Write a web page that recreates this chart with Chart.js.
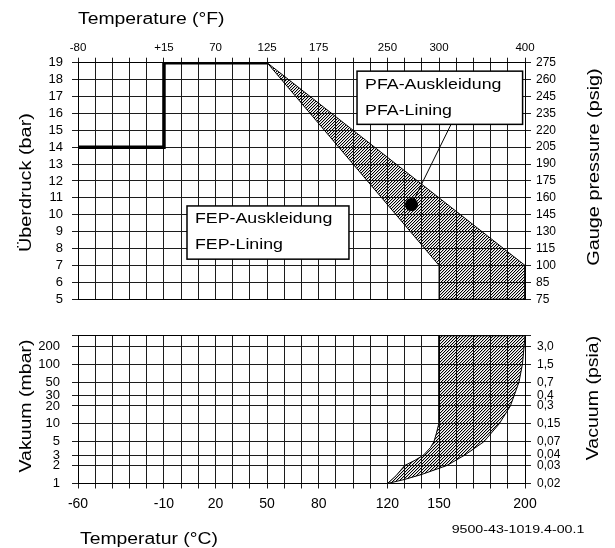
<!DOCTYPE html>
<html><head><meta charset="utf-8">
<script src="https://cdn.jsdelivr.net/npm/chart.js@4.4.1/dist/chart.umd.min.js"></script>
<style>
html,body{margin:0;padding:0;background:#fff;}
#wrap{position:relative;width:615px;height:548px;overflow:hidden;background:#fff;}
#c1{position:absolute;left:0;top:0;}
#c2{position:absolute;left:0;top:316px;}
</style></head><body>
<div id="wrap"><canvas id="c1" width="615" height="316"></canvas><canvas id="c2" width="615" height="232"></canvas></div>
<script>
// ---------- data ----------
const tempTicksC = [-60, -10, 20, 50, 80, 120, 150, 200];
const tempLabelsC = ['-60', '-10', '20', '50', '80', '120', '150', '200'];
const tempLabelsF = ['-80', '+15', '70', '125', '175', '250', '300', '400'];
const barTicks = [5, 6, 7, 8, 9, 10, 11, 12, 13, 14, 15, 16, 17, 18, 19];
const psigLabels = ['75', '85', '100', '115', '130', '145', '160', '175', '190', '205', '220', '235', '245', '260', '275'];
const mbarTicks = [1, 2, 3, 5, 10, 20, 30, 50, 100, 200];
const mbarLabels = ['1', '2', '3', '5', '10', '20', '30', '50', '100', '200'];
const psiaLabels = ['0,02', '0,03', '0,04', '0,07', '0,15', '0,3', '0,4', '0,7', '1,5', '3,0'];
const mbarTop = 300;

const fepTempC = [-60, -10, -10, 50];
const fepBar = [14, 14, 19, 19];
const pfaTempC = [50, 200, 200, 150, 150, 50];
const pfaBar = [19, 7, 5, 5, 7, 19];
const dotTempC = [134];
const dotBar = [10.6];
const leaderTempC = [134, 157];
const leaderBar = [10.6, 15.35];
const vacTempC = [120, 130, 140, 154.5, 165, 176, 185, 191.5, 196.5, 198.5, 199.5, 200, 150, 150, 148.5, 147, 145, 141, 136, 130, 125, 120];
const vacMbar = [1, 1.17, 1.42, 2, 3, 5, 10, 20, 50, 100, 200, 300, 300, 10.5, 7, 5, 4, 3, 2.45, 2, 1.35, 1];

const titleTopF = 'Temperature (°F)';
const titleBottomC = 'Temperatur (°C)';
const titleBar = 'Überdruck (bar)';
const titlePsig = 'Gauge pressure (psig)';
const titleMbar = 'Vakuum (mbar)';
const titlePsia = 'Vacuum (psia)';
const drawingCode = '9500-43-1019.4-00.1';
const pfaText = ['PFA-Auskleidung', 'PFA-Lining'];
const fepText = ['FEP-Auskleidung', 'FEP-Lining'];

// ---------- helpers ----------
const FONT = '"Liberation Sans", Arial, Helvetica, sans-serif';
const GRID = '#1c1c1c';
const pts = (xs, ys) => xs.map((x, i) => ({x, y: ys[i]}));

function hatch() {
  const n = 3;
  const c = document.createElement('canvas');
  c.width = n; c.height = n;
  const g = c.getContext('2d');
  g.fillStyle = '#000';
  for (let i = 0; i < n; i++) g.fillRect(i, n - 1 - i, 1, 1);
  g.fillStyle = 'rgba(0,0,0,0.25)';
  for (let i = 0; i < n; i++) g.fillRect((i + 1) % n, n - 1 - i, 1, 1);
  return g.createPattern(c, 'repeat');
}

function sText(ctx, text, x, y, o) {
  o = o || {};
  ctx.save();
  ctx.translate(x, y);
  if (o.rot) ctx.rotate(o.rot);
  ctx.scale(o.sx || 1.25, 1);
  ctx.font = (o.size || 16) + 'px ' + FONT;
  ctx.fillStyle = '#000';
  ctx.textAlign = o.align || 'left';
  ctx.textBaseline = 'middle';
  ctx.fillText(text, 0, 0);
  ctx.restore();
}

const fixW = w => s => { s.width = w; };
const fixH = h => s => { s.height = h; };
const tickFont = sz => ({family: FONT, size: sz});

// ---------- top chart ----------
const topPlugin = {
  id: 'topDeco',
  afterDatasetsDraw(chart) {
    const ctx = chart.ctx, X = chart.scales.x, Y = chart.scales.y;
    const boxes = [
      {x0: 102.3, x1: 198.6, y0: 18.5, y1: 15.35, lines: pfaText},
      {x0: 3.4, x1: 97.6, y0: 10.52, y1: 7.37, lines: fepText}
    ];
    boxes.forEach(b => {
      const l = X.getPixelForValue(b.x0), r = X.getPixelForValue(b.x1);
      const t = Y.getPixelForValue(b.y0), bt = Y.getPixelForValue(b.y1);
      ctx.save();
      ctx.fillStyle = '#fff';
      ctx.fillRect(l, t, r - l, bt - t);
      ctx.strokeStyle = '#000'; ctx.lineWidth = 1.5;
      ctx.strokeRect(l, t, r - l, bt - t);
      ctx.restore();
      sText(ctx, b.lines[0], l + 8, t + 13.5, {size: 14, sx: 1.27});
      sText(ctx, b.lines[1], l + 8, t + 39.5, {size: 14, sx: 1.27});
    });
  },
  afterDraw(chart) {
    const ctx = chart.ctx;
    sText(ctx, titleTopF, 78, 20, {size: 16, sx: 1.21});
    sText(ctx, titleBar, 27, 182.6, {size: 16, sx: 1.24, rot: -Math.PI / 2, align: 'center'});
    sText(ctx, titlePsig, 595, 167, {size: 16, sx: 1.24, rot: -Math.PI / 2, align: 'center'});
  }
};

const labelFrom = (keys, labels) => v => { const i = keys.indexOf(v); return i >= 0 ? labels[i] : ''; };

new Chart(document.getElementById('c1'), {
  type: 'line',
  data: {
    datasets: [
      {data: pts(pfaTempC, pfaBar), fill: 'shape', backgroundColor: hatch(), borderColor: '#000', borderWidth: 1, pointRadius: 0, tension: 0},
      {data: pts(fepTempC, fepBar), fill: false, borderColor: '#000', borderWidth: 3.5, pointRadius: 0, tension: 0, borderJoinStyle: 'miter'},
      {data: pts(leaderTempC, leaderBar), fill: false, borderColor: '#000', borderWidth: 1, pointRadius: 0},
      {data: pts(dotTempC, dotBar), showLine: false, pointRadius: 6.5, pointBackgroundColor: '#000', pointBorderColor: '#000', pointBorderWidth: 0}
    ]
  },
  options: {
    responsive: false, animation: false, events: [],
    layout: {padding: 0},
    plugins: {legend: {display: false}, tooltip: {enabled: false}},
    scales: {
      x: {type: 'linear', position: 'bottom', min: -60, max: 200,
          ticks: {stepSize: 10, display: false, autoSkip: false},
          grid: {color: GRID, lineWidth: 1, drawTicks: false, tickLength: 0},
          border: {display: true, color: '#000', width: 1},
          afterFit: fixH(316 - 302.6)},
      xTop: {type: 'linear', position: 'top', min: -60, max: 200,
          ticks: {stepSize: 10, autoSkip: false, maxRotation: 0, padding: 3, color: '#000', font: tickFont(11.5),
                  callback: labelFrom(tempTicksC, tempLabelsF)},
          grid: {drawOnChartArea: false, color: GRID, tickLength: 5},
          border: {display: true, color: '#000', width: 1},
          afterFit: fixH(62.7)},
      y: {type: 'linear', position: 'left', min: 5, max: 19,
          afterBuildTicks: s => { s.ticks = barTicks.map(v => ({value: v})); },
          ticks: {autoSkip: false, padding: 9, color: '#000', font: tickFont(13),
                  callback: labelFrom(barTicks, barTicks.map(String))},
          grid: {color: GRID, lineWidth: 1, tickLength: 6},
          border: {display: true, color: '#000', width: 1},
          afterFit: fixW(78)},
      yR: {type: 'linear', position: 'right', min: 5, max: 19,
          afterBuildTicks: s => { s.ticks = barTicks.map(v => ({value: v})); },
          ticks: {autoSkip: false, padding: 5, color: '#000', font: tickFont(12),
                  callback: labelFrom(barTicks, psigLabels)},
          grid: {drawOnChartArea: false, color: GRID, tickLength: 6},
          border: {display: true, color: '#000', width: 1},
          afterFit: fixW(615 - 525)}
    }
  },
  plugins: [topPlugin]
});

// ---------- bottom chart ----------
const OFF = 316;
const botPlugin = {
  id: 'botDeco',
  afterDraw(chart) {
    const ctx = chart.ctx;
    sText(ctx, titleMbar, 27, 406 - OFF, {size: 16, sx: 1.22, rot: -Math.PI / 2, align: 'center'});
    sText(ctx, titlePsia, 594, 398 - OFF, {size: 16, sx: 1.22, rot: -Math.PI / 2, align: 'center'});
    sText(ctx, titleBottomC, 80, 540 - OFF, {size: 16, sx: 1.21});
    sText(ctx, drawingCode, 518, 530 - OFF, {size: 10, sx: 1.42, align: 'center'});
  }
};
const yTicksB = mbarTicks.concat([mbarTop]);

new Chart(document.getElementById('c2'), {
  type: 'line',
  data: {
    datasets: [
      {data: pts(vacTempC, vacMbar), fill: 'shape', backgroundColor: hatch(), borderColor: '#000', borderWidth: 1, pointRadius: 0, tension: 0}
    ]
  },
  options: {
    responsive: false, animation: false, events: [],
    layout: {padding: 0},
    plugins: {legend: {display: false}, tooltip: {enabled: false}},
    scales: {
      x: {type: 'linear', position: 'bottom', min: -60, max: 200,
          ticks: {stepSize: 10, autoSkip: false, maxRotation: 0, padding: 7, color: '#000', font: tickFont(14),
                  callback: labelFrom(tempTicksC, tempLabelsC)},
          grid: {color: GRID, lineWidth: 1, tickLength: 5},
          border: {display: true, color: '#000', width: 1},
          afterFit: fixH(232 - 167.5)},
      xTop: {type: 'linear', position: 'top', min: -60, max: 200,
          ticks: {display: false},
          grid: {display: false},
          border: {display: true, color: '#000', width: 1},
          afterFit: fixH(12.7)},
      y: {type: 'logarithmic', position: 'left', min: 1, max: mbarTop,
          afterBuildTicks: s => { s.ticks = yTicksB.map(v => ({value: v})); },
          ticks: {autoSkip: false, padding: 12, color: '#000', font: tickFont(13),
                  callback: labelFrom(mbarTicks, mbarLabels)},
          grid: {color: GRID, lineWidth: 1, tickLength: 6},
          border: {display: true, color: '#000', width: 1},
          afterFit: fixW(78)},
      yR: {type: 'logarithmic', position: 'right', min: 1, max: mbarTop,
          afterBuildTicks: s => { s.ticks = yTicksB.map(v => ({value: v})); },
          ticks: {autoSkip: false, padding: 6, color: '#000', font: tickFont(12),
                  callback: labelFrom(mbarTicks, psiaLabels)},
          grid: {drawOnChartArea: false, color: GRID, tickLength: 6},
          border: {display: true, color: '#000', width: 1},
          afterFit: fixW(615 - 525)}
    }
  },
  plugins: [botPlugin]
});
</script>
</body></html>
